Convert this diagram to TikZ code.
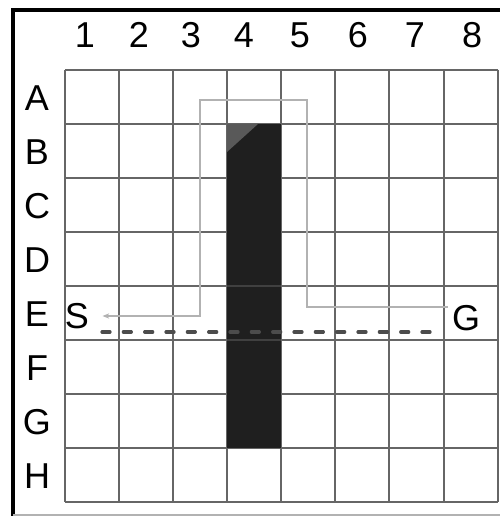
\documentclass[tikz,border=0pt]{standalone}
\usepackage{fontspec}
\setmainfont{Liberation Sans}
\usetikzlibrary{arrows.meta}

\tikzset{
  gridline/.style={line width=1.5pt, black!60},
  lbl/.style={font=\fontsize{27}{27}\selectfont, inner sep=0pt},
  route/.style={line width=1.4pt, black!30},
  sweep/.style={line width=2.4pt, black!70, dash pattern=on 6pt off 10pt, line cap=round}
}

\begin{document}
\begin{tikzpicture}[x=0.75pt,y=-0.75pt]
\useasboundingbox (0,0) rectangle (500,516);
\fill[white] (0,0) rectangle (500,516);
% frame
\draw[line width=3pt, black] (13,516) -- (13,10) -- (500,10);
\draw[line width=1pt, black!30] (13,515) -- (500,515);
% grid
\draw[gridline] (65,70) -- (65,502);
\draw[gridline] (119,70) -- (119,502);
\draw[gridline] (173,70) -- (173,502);
\draw[gridline] (227,70) -- (227,502);
\draw[gridline] (281,70) -- (281,502);
\draw[gridline] (335,70) -- (335,502);
\draw[gridline] (389,70) -- (389,502);
\draw[gridline] (444,70) -- (444,502);
\draw[gridline] (498,70) -- (498,502);
\draw[gridline] (65,70) -- (498,70);
\draw[gridline] (65,124) -- (498,124);
\draw[gridline] (65,178) -- (498,178);
\draw[gridline] (65,232) -- (498,232);
\draw[gridline] (65,286) -- (498,286);
\draw[gridline] (65,340) -- (498,340);
\draw[gridline] (65,394) -- (498,394);
\draw[gridline] (65,448) -- (498,448);
\draw[gridline] (65,502) -- (498,502);
% wall
\fill[black!88] (227,124) rectangle (281,448);
\fill[black!65] (227,124) -- (258,124) -- (227,152) -- cycle;
\draw[line width=1pt, black!75] (227,286) -- (281,286);
\draw[line width=1pt, black!75] (227,340) -- (281,340);
% column labels
\node[lbl] (c1) at (85,35) {1};
\node[lbl] (c2) at (139,35) {2};
\node[lbl] (c3) at (191,35) {3};
\node[lbl] (c4) at (244,35) {4};
\node[lbl] (c5) at (300,35) {5};
\node[lbl] (c6) at (358,35) {6};
\node[lbl] (c7) at (415,35) {7};
\node[lbl] (c8) at (472,35) {8};
% row labels
\node[lbl] (rA) at (37,98) {A};
\node[lbl] (rB) at (37,152) {B};
\node[lbl] (rC) at (37,206) {C};
\node[lbl] (rD) at (37,260) {D};
\node[lbl] (rE) at (37,314) {E};
\node[lbl] (rF) at (37,368) {F};
\node[lbl] (rG) at (37,422) {G};
\node[lbl] (rH) at (37,476) {H};
% start and goal
\node[lbl] (S) at (77,316) {S};
\node[lbl] (G) at (466,318) {G};
% route round the wall
\coordinate (r1) at (307,307);
\coordinate (r2) at (307,100);
\coordinate (r3) at (200,100);
\coordinate (r4) at (200,316);
\draw[route, -{Stealth[length=5pt,width=4pt]}] ([xshift=-3pt]G.west |- r1) -- (r1) -- (r2) -- (r3) -- (r4) -- ([xshift=10pt]S.east |- r4);
% straight sweep
\coordinate (d1) at (102,332);
\coordinate (d2) at (438,332);
\draw[sweep] (d1) -- (d2);
\end{tikzpicture}
\end{document}
